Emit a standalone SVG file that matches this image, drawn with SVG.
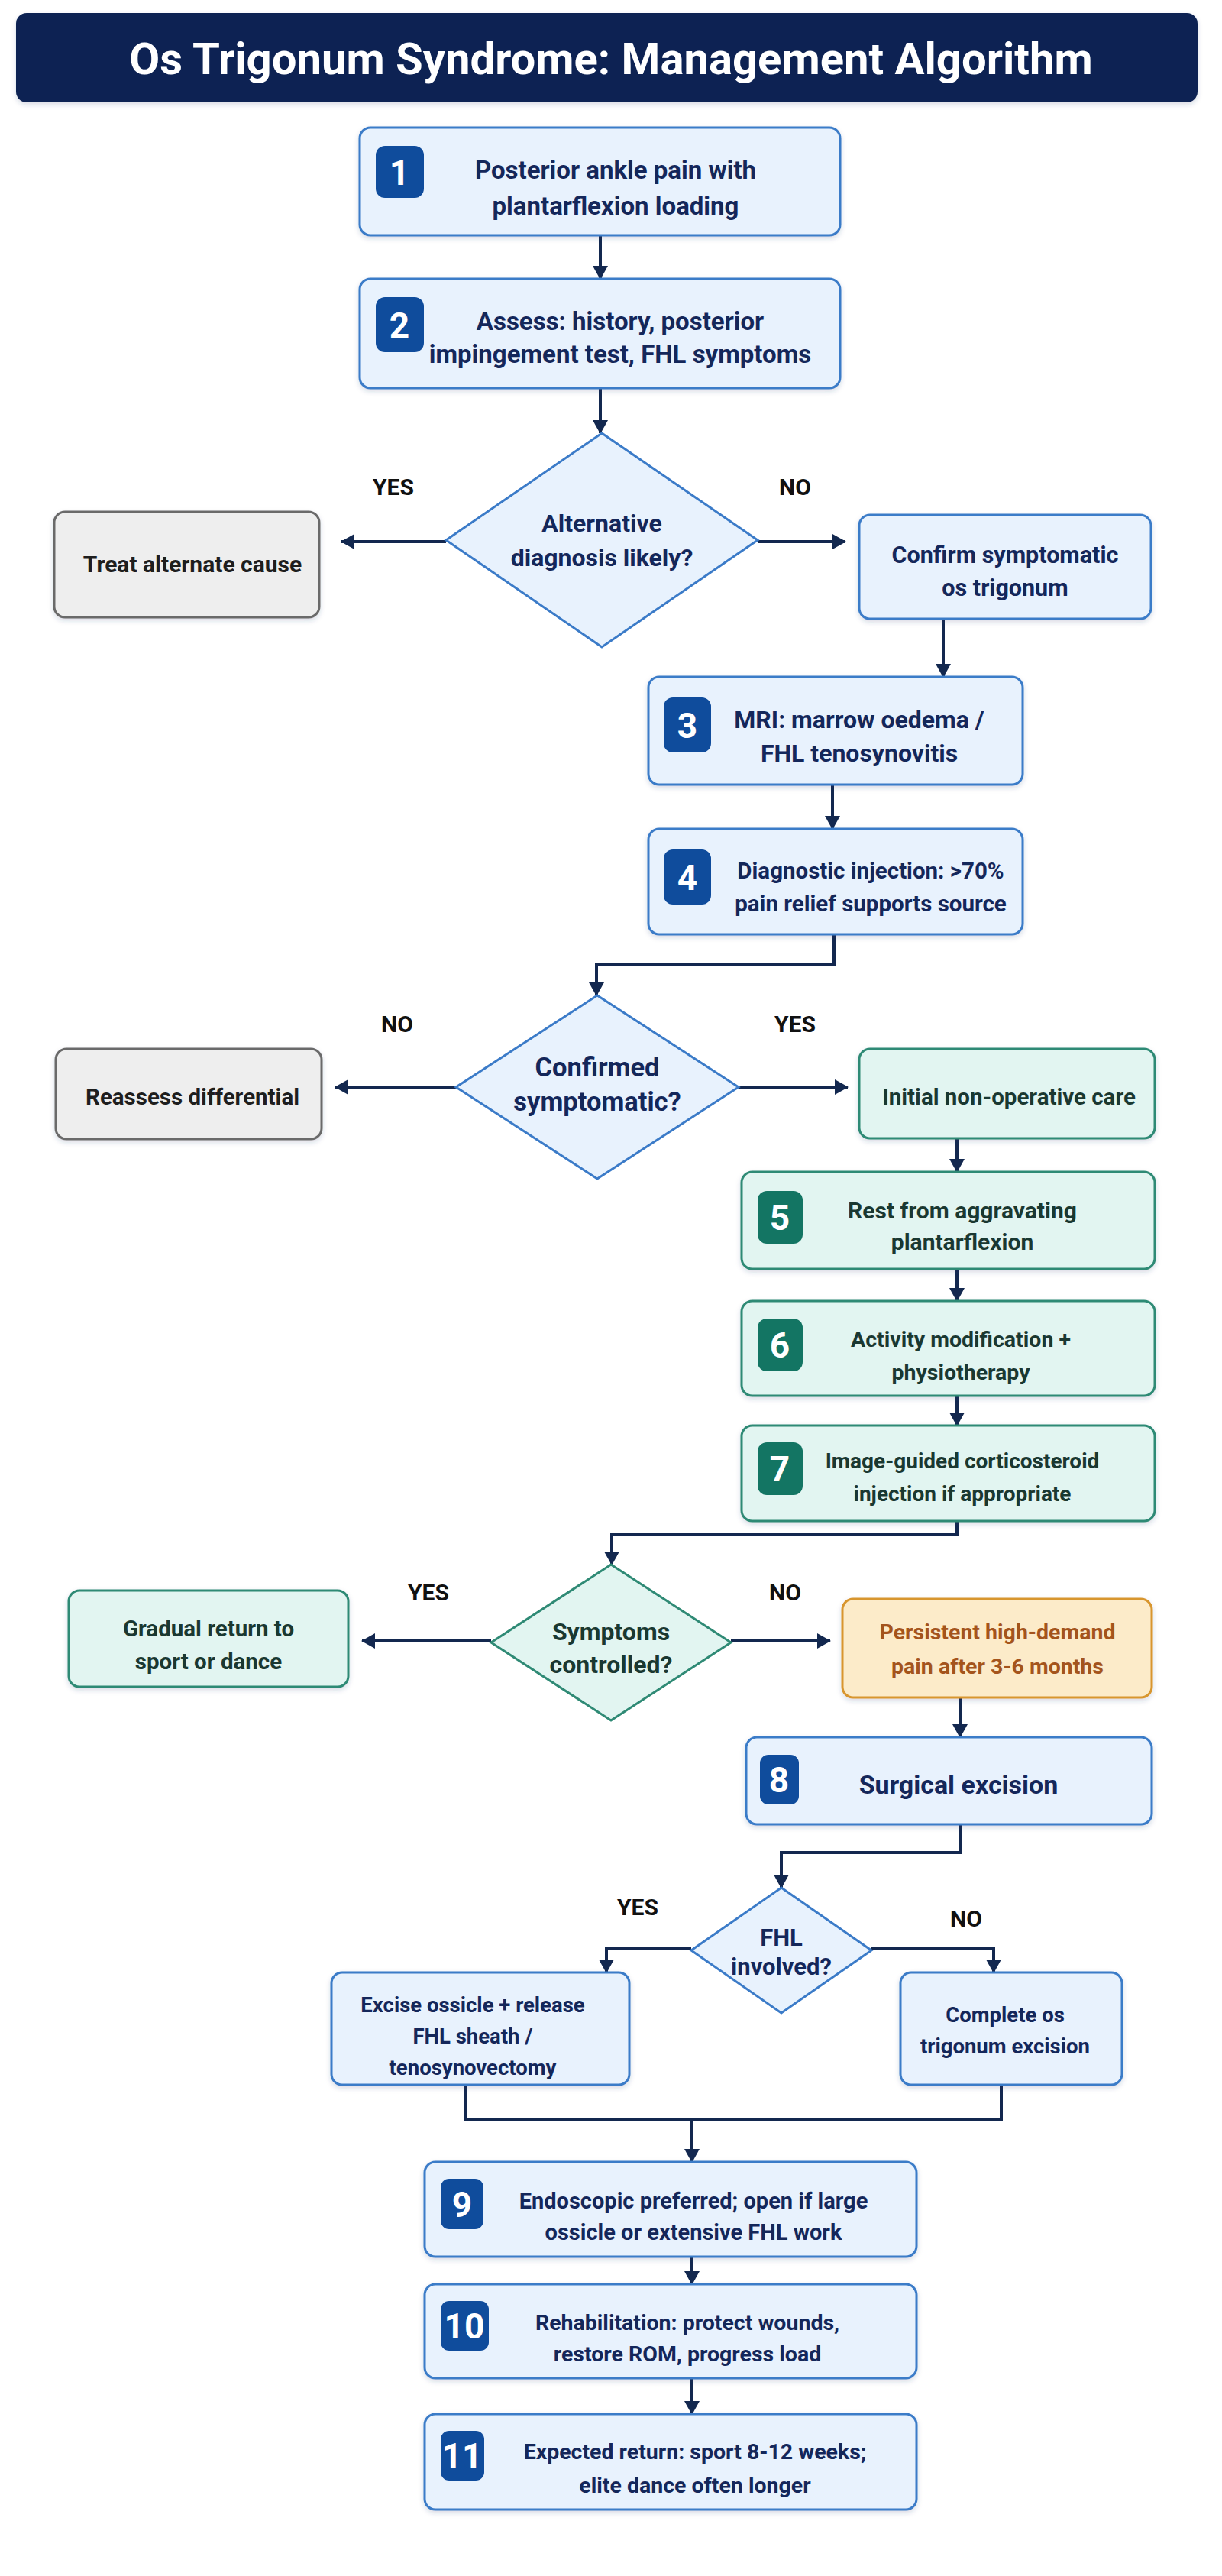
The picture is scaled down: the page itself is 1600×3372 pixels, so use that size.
<svg xmlns="http://www.w3.org/2000/svg" width="1600" height="3372" viewBox="0 0 1600 3372">
<defs>
<filter id="sh" x="-10%" y="-10%" width="120%" height="130%"><feDropShadow dx="0" dy="3" stdDeviation="3" flood-color="#1a3a6a" flood-opacity="0.18"/></filter>
<marker id="ah" viewBox="0 0 18 20" markerWidth="18" markerHeight="20" refX="17" refY="10" orient="auto" markerUnits="userSpaceOnUse"><path d="M0,0 L18,10 L0,20 z" fill="#13284f"/></marker>
<style>
text{font-family:Roboto,"Liberation Sans",Arial,sans-serif;font-weight:700;text-anchor:middle}
.blue{fill:#e8f2fd;stroke:#3b7bc8;stroke-width:3}
.teal{fill:#e2f5f1;stroke:#2f8a75;stroke-width:3}
.gray{fill:#eeeeee;stroke:#6a6a6a;stroke-width:3}
.orange{fill:#fcebc9;stroke:#d8962e;stroke-width:3}
.bb{fill:#0f4c9c}
.tb{fill:#137563}
.num{fill:#ffffff;font-size:46px}
.tBlue{fill:#14275a}
.tTeal{fill:#1a3831}
.tGray{fill:#1e1e1e}
.tOrange{fill:#a4541c}
.lbl{fill:#111111;font-size:30px}
.conn{fill:none;stroke:#13284f;stroke-width:4}
</style>
</defs>
<rect width="1600" height="3372" fill="#ffffff"/>

<g id="title">
<rect x="21" y="17" width="1547" height="117" rx="14" fill="#0c2452" filter="url(#sh)"/>
<text x="800" y="97" font-size="58" fill="#ffffff">Os Trigonum Syndrome: Management Algorithm</text>
</g>

<g id="connectors">
<path class="conn" d="M786,308 V365" marker-end="url(#ah)"/>
<path class="conn" d="M786,508 V567" marker-end="url(#ah)"/>
<path class="conn" d="M584,709 H447" marker-end="url(#ah)"/>
<path class="conn" d="M992,709 H1107" marker-end="url(#ah)"/>
<path class="conn" d="M1235,810 V886" marker-end="url(#ah)"/>
<path class="conn" d="M1090,1027 V1085" marker-end="url(#ah)"/>
<path class="conn" d="M1092,1223 V1263 H781 V1303" marker-end="url(#ah)"/>
<path class="conn" d="M597,1423 H439" marker-end="url(#ah)"/>
<path class="conn" d="M967,1423 H1110" marker-end="url(#ah)"/>
<path class="conn" d="M1253,1490 V1534" marker-end="url(#ah)"/>
<path class="conn" d="M1253,1661 V1703" marker-end="url(#ah)"/>
<path class="conn" d="M1253,1827 V1866" marker-end="url(#ah)"/>
<path class="conn" d="M1253,1991 V2009 H801 V2048" marker-end="url(#ah)"/>
<path class="conn" d="M643,2148 H474" marker-end="url(#ah)"/>
<path class="conn" d="M957,2148 H1087" marker-end="url(#ah)"/>
<path class="conn" d="M1257,2222 V2274" marker-end="url(#ah)"/>
<path class="conn" d="M1257,2388 V2425 H1023 V2471" marker-end="url(#ah)"/>
<path class="conn" d="M905,2551 H794 V2582" marker-end="url(#ah)"/>
<path class="conn" d="M1141,2551 H1301 V2582" marker-end="url(#ah)"/>
<path class="conn" d="M610,2729 V2774 H1311 V2729"/>
<path class="conn" d="M906,2774 V2830" marker-end="url(#ah)"/>
<path class="conn" d="M906,2954 V2990" marker-end="url(#ah)"/>
<path class="conn" d="M906,3113 V3160" marker-end="url(#ah)"/>
</g>

<g id="n1">
<rect class="blue" x="471" y="167" width="629" height="141" rx="14" filter="url(#sh)"/>
<rect class="bb" x="492" y="191" width="63" height="68" rx="12"/>
<text class="num" x="523" y="242">1</text>
<text class="tBlue" font-size="33" x="806" y="234">Posterior ankle pain with</text>
<text class="tBlue" font-size="33" x="806" y="281">plantarflexion loading</text>
</g>

<g id="n2">
<rect class="blue" x="471" y="365" width="629" height="143" rx="14" filter="url(#sh)"/>
<rect class="bb" x="492" y="389" width="63" height="72" rx="12"/>
<text class="num" x="523" y="442">2</text>
<text class="tBlue" font-size="33" x="812" y="432">Assess: history, posterior</text>
<text class="tBlue" font-size="33" x="812" y="475">impingement test, FHL symptoms</text>
</g>

<g id="d1">
<polygon class="blue" points="788,567 992,707 788,847 584,707"/>
<text class="tBlue" font-size="32" x="788" y="696">Alternative</text>
<text class="tBlue" font-size="32" x="788" y="741">diagnosis likely?</text>
</g>
<text class="lbl" x="515" y="648">YES</text>
<text class="lbl" x="1041" y="648">NO</text>

<g id="treat">
<rect class="gray" x="71" y="670" width="347" height="138" rx="14" filter="url(#sh)"/>
<text class="tGray" font-size="30" x="252" y="749">Treat alternate cause</text>
</g>

<g id="confirm">
<rect class="blue" x="1125" y="674" width="382" height="136" rx="14" filter="url(#sh)"/>
<text class="tBlue" font-size="30.5" x="1316" y="737">Confirm symptomatic</text>
<text class="tBlue" font-size="30.5" x="1316" y="780">os trigonum</text>
</g>

<g id="n3">
<rect class="blue" x="849" y="886" width="490" height="141" rx="14" filter="url(#sh)"/>
<rect class="bb" x="869" y="913" width="62" height="72" rx="12"/>
<text class="num" x="900" y="966">3</text>
<text class="tBlue" font-size="32" x="1125" y="953">MRI: marrow oedema /</text>
<text class="tBlue" font-size="32" x="1125" y="997">FHL tenosynovitis</text>
</g>

<g id="n4">
<rect class="blue" x="849" y="1085" width="490" height="138" rx="14" filter="url(#sh)"/>
<rect class="bb" x="869" y="1112" width="62" height="72" rx="12"/>
<text class="num" x="900" y="1165">4</text>
<text class="tBlue" font-size="29.5" x="1140" y="1150">Diagnostic injection: &gt;70%</text>
<text class="tBlue" font-size="29.5" x="1140" y="1193">pain relief supports source</text>
</g>

<g id="d2">
<polygon class="blue" points="782,1303 967,1423 782,1543 597,1423"/>
<text class="tBlue" font-size="34.5" x="782" y="1409">Confirmed</text>
<text class="tBlue" font-size="34.5" x="782" y="1454">symptomatic?</text>
</g>
<text class="lbl" x="520" y="1351">NO</text>
<text class="lbl" x="1041" y="1351">YES</text>

<g id="reassess">
<rect class="gray" x="73" y="1373" width="348" height="118" rx="14" filter="url(#sh)"/>
<text class="tGray" font-size="29.5" x="252" y="1446">Reassess differential</text>
</g>

<g id="initial">
<rect class="teal" x="1125" y="1373" width="387" height="117" rx="14" filter="url(#sh)"/>
<text class="tTeal" font-size="29.5" x="1321" y="1446">Initial non-operative care</text>
</g>

<g id="n5">
<rect class="teal" x="971" y="1534" width="541" height="127" rx="14" filter="url(#sh)"/>
<rect class="tb" x="992" y="1559" width="59" height="69" rx="12"/>
<text class="num" x="1021" y="1610">5</text>
<text class="tTeal" font-size="30" x="1260" y="1595">Rest from aggravating</text>
<text class="tTeal" font-size="30" x="1260" y="1636">plantarflexion</text>
</g>

<g id="n6">
<rect class="teal" x="971" y="1703" width="541" height="124" rx="14" filter="url(#sh)"/>
<rect class="tb" x="992" y="1726" width="59" height="69" rx="12"/>
<text class="num" x="1021" y="1777">6</text>
<text class="tTeal" font-size="28.5" x="1258" y="1763">Activity modification +</text>
<text class="tTeal" font-size="28.5" x="1258" y="1806">physiotherapy</text>
</g>

<g id="n7">
<rect class="teal" x="971" y="1866" width="541" height="125" rx="14" filter="url(#sh)"/>
<rect class="tb" x="992" y="1888" width="59" height="69" rx="12"/>
<text class="num" x="1021" y="1939">7</text>
<text class="tTeal" font-size="28" x="1260" y="1922">Image-guided corticosteroid</text>
<text class="tTeal" font-size="28" x="1260" y="1965">injection if appropriate</text>
</g>

<g id="d3">
<polygon class="teal" points="800,2048 957,2150 800,2252 643,2150"/>
<text class="tTeal" font-size="32" x="800" y="2147">Symptoms</text>
<text class="tTeal" font-size="32" x="800" y="2190">controlled?</text>
</g>
<text class="lbl" x="561" y="2095">YES</text>
<text class="lbl" x="1028" y="2095">NO</text>

<g id="gradual">
<rect class="teal" x="90" y="2082" width="366" height="126" rx="14" filter="url(#sh)"/>
<text class="tTeal" font-size="29.5" x="273" y="2142">Gradual return to</text>
<text class="tTeal" font-size="29.5" x="273" y="2185">sport or dance</text>
</g>

<g id="persistent">
<rect class="orange" x="1103" y="2093" width="405" height="129" rx="14" filter="url(#sh)"/>
<text class="tOrange" font-size="28.5" x="1306" y="2146">Persistent high-demand</text>
<text class="tOrange" font-size="28.5" x="1306" y="2191">pain after 3-6 months</text>
</g>

<g id="n8">
<rect class="blue" x="977" y="2274" width="531" height="114" rx="14" filter="url(#sh)"/>
<rect class="bb" x="995" y="2297" width="51" height="65" rx="11"/>
<text class="num" x="1020" y="2346">8</text>
<text class="tBlue" font-size="34" x="1255" y="2348">Surgical excision</text>
</g>

<g id="d4">
<polygon class="blue" points="1023,2471 1141,2553 1023,2635 905,2553"/>
<text class="tBlue" font-size="31" x="1023" y="2547">FHL</text>
<text class="tBlue" font-size="31" x="1023" y="2585">involved?</text>
</g>
<text class="lbl" x="835" y="2507">YES</text>
<text class="lbl" x="1265" y="2522">NO</text>

<g id="excise">
<rect class="blue" x="434" y="2582" width="390" height="147" rx="14" filter="url(#sh)"/>
<text class="tBlue" font-size="27.5" x="619" y="2634">Excise ossicle + release</text>
<text class="tBlue" font-size="27.5" x="619" y="2675">FHL sheath /</text>
<text class="tBlue" font-size="27.5" x="619" y="2716">tenosynovectomy</text>
</g>

<g id="complete">
<rect class="blue" x="1179" y="2582" width="290" height="147" rx="14" filter="url(#sh)"/>
<text class="tBlue" font-size="27.5" x="1316" y="2647">Complete os</text>
<text class="tBlue" font-size="27.5" x="1316" y="2688">trigonum excision</text>
</g>

<g id="n9">
<rect class="blue" x="556" y="2830" width="644" height="124" rx="14" filter="url(#sh)"/>
<rect class="bb" x="577" y="2852" width="56" height="66" rx="11"/>
<text class="num" x="605" y="2902">9</text>
<text class="tBlue" font-size="29" x="908" y="2891">Endoscopic preferred; open if large</text>
<text class="tBlue" font-size="29" x="908" y="2932">ossicle or extensive FHL work</text>
</g>

<g id="n10">
<rect class="blue" x="556" y="2990" width="644" height="123" rx="14" filter="url(#sh)"/>
<rect class="bb" x="577" y="3012" width="63" height="65" rx="11"/>
<text class="num" x="608" y="3061" font-size="42">10</text>
<text class="tBlue" font-size="28.5" x="900" y="3050">Rehabilitation: protect wounds,</text>
<text class="tBlue" font-size="28.5" x="900" y="3091">restore ROM, progress load</text>
</g>

<g id="n11">
<rect class="blue" x="556" y="3160" width="644" height="125" rx="14" filter="url(#sh)"/>
<rect class="bb" x="577" y="3182" width="57" height="65" rx="11"/>
<text class="num" x="605" y="3231" font-size="42">11</text>
<text class="tBlue" font-size="28.5" x="910" y="3219">Expected return: sport 8-12 weeks;</text>
<text class="tBlue" font-size="28.5" x="910" y="3263">elite dance often longer</text>
</g>
</svg>
